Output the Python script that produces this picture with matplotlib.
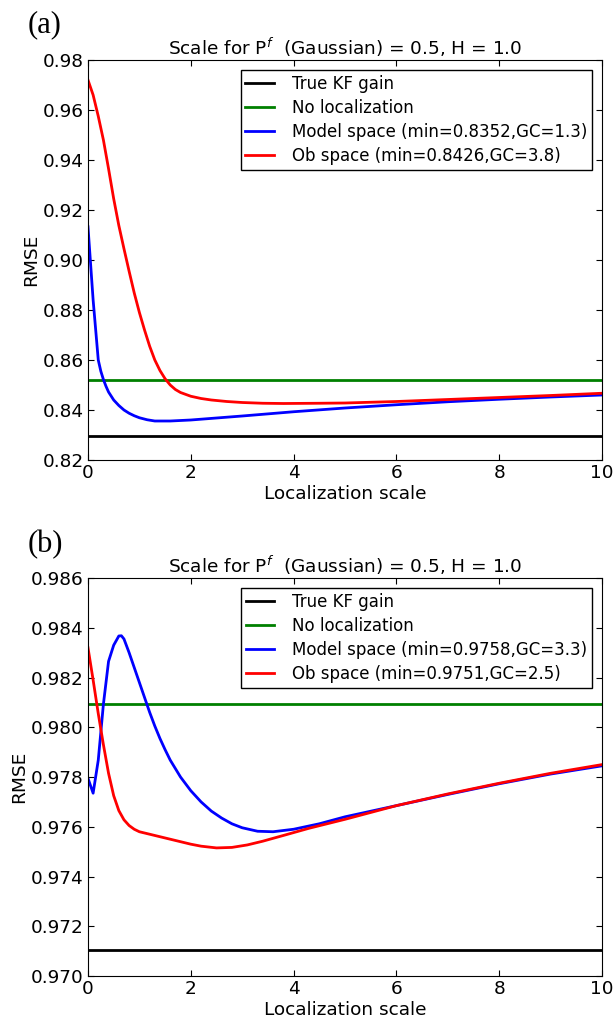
import matplotlib
matplotlib.use('Agg')
import matplotlib.pyplot as plt

# panel (a)
true_a = 0.8296
noloc_a = 0.8520
xa_model = [0, 0.1, 0.2, 0.25, 0.3, 0.35, 0.4, 0.5, 0.6, 0.7, 0.8, 0.9, 1.0, 1.15, 1.3, 1.6, 2.0,
            3, 4, 5, 6, 7, 8, 9, 10]
ya_model = [0.9133, 0.8840, 0.8600, 0.8555, 0.8522, 0.8495, 0.8472, 0.8440, 0.8418, 0.8400,
            0.8387, 0.8377, 0.8369, 0.8361, 0.8356, 0.8356, 0.8360, 0.8376, 0.8393, 0.8408,
            0.8421, 0.8433, 0.8443, 0.8452, 0.8460]
xa_ob = [0, 0.1, 0.2, 0.3, 0.4, 0.5, 0.6, 0.7, 0.8, 0.9, 1.0, 1.1, 1.2, 1.3, 1.4, 1.5, 1.6, 1.7,
         1.8, 2.0, 2.2, 2.4, 2.7, 3.0, 3.4, 3.8, 4.5, 5, 6, 7, 8, 9, 10]
ya_ob = [0.9720, 0.9660, 0.9575, 0.9480, 0.9365, 0.9245, 0.9138, 0.9045, 0.8955, 0.8868,
         0.8790, 0.8720, 0.8655, 0.8600, 0.8558, 0.8525, 0.8500, 0.8482, 0.8470, 0.8455,
         0.8446, 0.8440, 0.8434, 0.8430, 0.8427, 0.8426, 0.8427, 0.8428, 0.8434, 0.8442,
         0.8450, 0.8458, 0.8467]

# panel (b)
true_b = 0.97105
noloc_b = 0.98092
xb_model = [0, 0.1, 0.2, 0.3, 0.4, 0.5, 0.6, 0.65, 0.7, 0.8, 0.9, 1.0, 1.1, 1.2, 1.3, 1.4, 1.5,
            1.6, 1.8, 2.0, 2.2, 2.4, 2.6, 2.8, 3.0, 3.3, 3.6, 4.0, 4.5, 5, 6, 7, 8, 9, 10]
yb_model = [0.97795, 0.97735, 0.97868, 0.98093, 0.98265, 0.98330, 0.98367, 0.98368, 0.98355,
            0.98300, 0.98240, 0.98180, 0.98120, 0.98060, 0.98005, 0.97955, 0.97910, 0.97868,
            0.97800, 0.97745, 0.97700, 0.97663, 0.97635, 0.97612, 0.97596, 0.97582, 0.97580,
            0.97590, 0.97612, 0.97640, 0.97685, 0.97730, 0.97773, 0.97812, 0.97845]
xb_ob = [0, 0.1, 0.2, 0.3, 0.4, 0.5, 0.6, 0.7, 0.8, 0.9, 1.0, 1.2, 1.4, 1.6, 1.8, 2.0, 2.2, 2.5,
         2.8, 3.1, 3.4, 3.8, 4.3, 5, 6, 7, 8, 9, 10]
yb_ob = [0.98320, 0.98190, 0.98055, 0.97930, 0.97815, 0.97725, 0.97665, 0.97628, 0.97605,
         0.97590, 0.97580, 0.97570, 0.97560, 0.97550, 0.97540, 0.97530, 0.97522, 0.97515,
         0.97517, 0.97527, 0.97542, 0.97565, 0.97594, 0.97630, 0.97685, 0.97732, 0.97775,
         0.97815, 0.97850]

title = 'Scale for P$^f$  (Gaussian) = 0.5, H = 1.0'
fs = 13.3

fig = plt.figure(figsize=(6.14, 10.22), dpi=100)
ax1 = fig.add_axes([0.1433, 0.5499, 0.8372, 0.3914])
ax2 = fig.add_axes([0.1433, 0.0450, 0.8372, 0.3894])

panels = [
    (ax1, true_a, noloc_a, xa_model, ya_model, xa_ob, ya_ob, 'Model space (min=0.8352,GC=1.3)',
     'Ob space (min=0.8426,GC=3.8)', [0.82, 0.84, 0.86, 0.88, 0.90, 0.92, 0.94, 0.96, 0.98], '%.2f'),
    (ax2, true_b, noloc_b, xb_model, yb_model, xb_ob, yb_ob, 'Model space (min=0.9758,GC=3.3)',
     'Ob space (min=0.9751,GC=2.5)', [0.970, 0.972, 0.974, 0.976, 0.978, 0.980, 0.982, 0.984, 0.986], '%.3f'),
]

for ax, tv, nv, xm, ym, xo, yo, lm, lo, yt, fmt in panels:
    ax.axhline(tv, color='k', lw=2, label='True KF gain')
    ax.axhline(nv, color='#008000', lw=2, label='No localization')
    ax.plot(xm, ym, color='b', lw=2, label=lm)
    ax.plot(xo, yo, color='r', lw=2, label=lo)
    ax.set_xlim(0, 10)
    ax.set_ylim(yt[0], yt[-1])
    ax.set_yticks(yt)
    ax.set_yticklabels([fmt % v for v in yt])
    ax.set_xticks([0, 2, 4, 6, 8, 10])
    ax.tick_params(direction='in', top=True, right=True, length=4, labelsize=fs, pad=3)
    ax.set_xlabel('Localization scale', fontsize=fs, labelpad=2)
    ax.set_ylabel('RMSE', fontsize=fs, labelpad=2)
    ax.set_title(title, fontsize=fs, pad=4)
    leg = ax.legend(loc='upper right', fontsize=12, fancybox=False, framealpha=1,
                    edgecolor='k', handlelength=1.7, handletextpad=1.1, labelspacing=0.37,
                    borderpad=0.28, borderaxespad=0.6)
    leg.get_frame().set_linewidth(1.0)

fig.text(0.045, 0.99, '(a)', fontsize=22, family='Liberation Serif', va='top')
fig.text(0.045, 0.481, '(b)', fontsize=22, family='Liberation Serif', va='top')

fig.savefig('out.png', dpi=100)
